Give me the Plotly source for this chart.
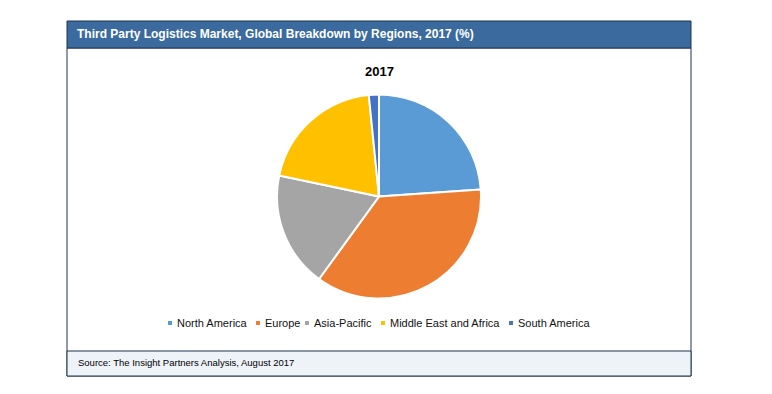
import plotly.graph_objects as go

W, H = 772, 394

regions = ["North America", "Europe", "Asia-Pacific", "Middle East and Africa", "South America"]
shares = [23.9, 36.1, 18.3, 20.1, 1.6]
colors = ["#5B9BD5", "#ED7D31", "#A5A5A5", "#FFC000", "#4472C4"]

title_text = "Third Party Logistics Market, Global Breakdown by Regions, 2017 (%)"
year_label = "2017"
source_text = "Source: The Insight Partners Analysis, August 2017"

# legend layout (pixel x of each marker)
legend_x = [170, 258, 307, 383, 511]
legend_y = 323


def px(x):
    return x / W


def py(y):
    return 1 - y / H


cx, cy, r = 379, 196.5, 102

fig = go.Figure(go.Pie(
    labels=regions,
    values=shares,
    marker=dict(colors=colors, line=dict(color="white", width=2)),
    sort=False,
    direction="clockwise",
    rotation=0,
    textinfo="none",
    hoverinfo="label+percent",
    showlegend=False,
    domain=dict(x=[px(cx - r), px(cx + r)], y=[py(cy + r), py(cy - r)]),
))

shapes = []
# outer frame
shapes.append(dict(type="rect", xref="paper", yref="paper",
                   x0=px(67), x1=px(691), y0=py(376), y1=py(48),
                   line=dict(color="#1F3550", width=1), fillcolor="rgba(0,0,0,0)", layer="below"))
# header bar
shapes.append(dict(type="rect", xref="paper", yref="paper",
                   x0=px(67), x1=px(691), y0=py(48), y1=py(21),
                   line=dict(color="#1F3550", width=1), fillcolor="#3B6A9E", layer="below"))
# source bar
shapes.append(dict(type="rect", xref="paper", yref="paper",
                   x0=px(67), x1=px(691), y0=py(376), y1=py(351),
                   line=dict(color="#1F3550", width=1), fillcolor="#EEF3F8", layer="below"))

annotations = [
    dict(text="<b>" + title_text + "</b>", x=px(75), y=py(34.5), xref="paper", yref="paper",
         xanchor="left", yanchor="middle", showarrow=False,
         font=dict(family="Arial, Liberation Sans", size=12, color="white")),
    dict(text="<b>" + year_label + "</b>", x=px(379), y=py(71), xref="paper", yref="paper",
         xanchor="center", yanchor="middle", showarrow=False,
         font=dict(family="Arial, Liberation Sans", size=13, color="black")),
    dict(text=source_text, x=px(76), y=py(362.5), xref="paper", yref="paper",
         xanchor="left", yanchor="middle", showarrow=False,
         font=dict(family="Arial, Liberation Sans", size=9.5, color="black")),
]

for name, col, lx in zip(regions, colors, legend_x):
    shapes.append(dict(type="rect", xref="paper", yref="paper",
                       x0=px(lx - 2), x1=px(lx + 2), y0=py(legend_y + 2), y1=py(legend_y - 2),
                       line=dict(width=0), fillcolor=col))
    annotations.append(dict(text=name, x=px(lx + 5), y=py(legend_y), xref="paper", yref="paper",
                            xanchor="left", yanchor="middle", showarrow=False,
                            font=dict(family="Arial, Liberation Sans", size=11, color="#111111")))

fig.update_layout(
    width=W, height=H,
    margin=dict(l=0, r=0, t=0, b=0),
    paper_bgcolor="white",
    plot_bgcolor="white",
    shapes=shapes,
    annotations=annotations,
)

fig.write_html("out.html", config={"displayModeBar": False},
               post_script="document.body.style.margin='0';document.body.style.overflow='hidden';")
